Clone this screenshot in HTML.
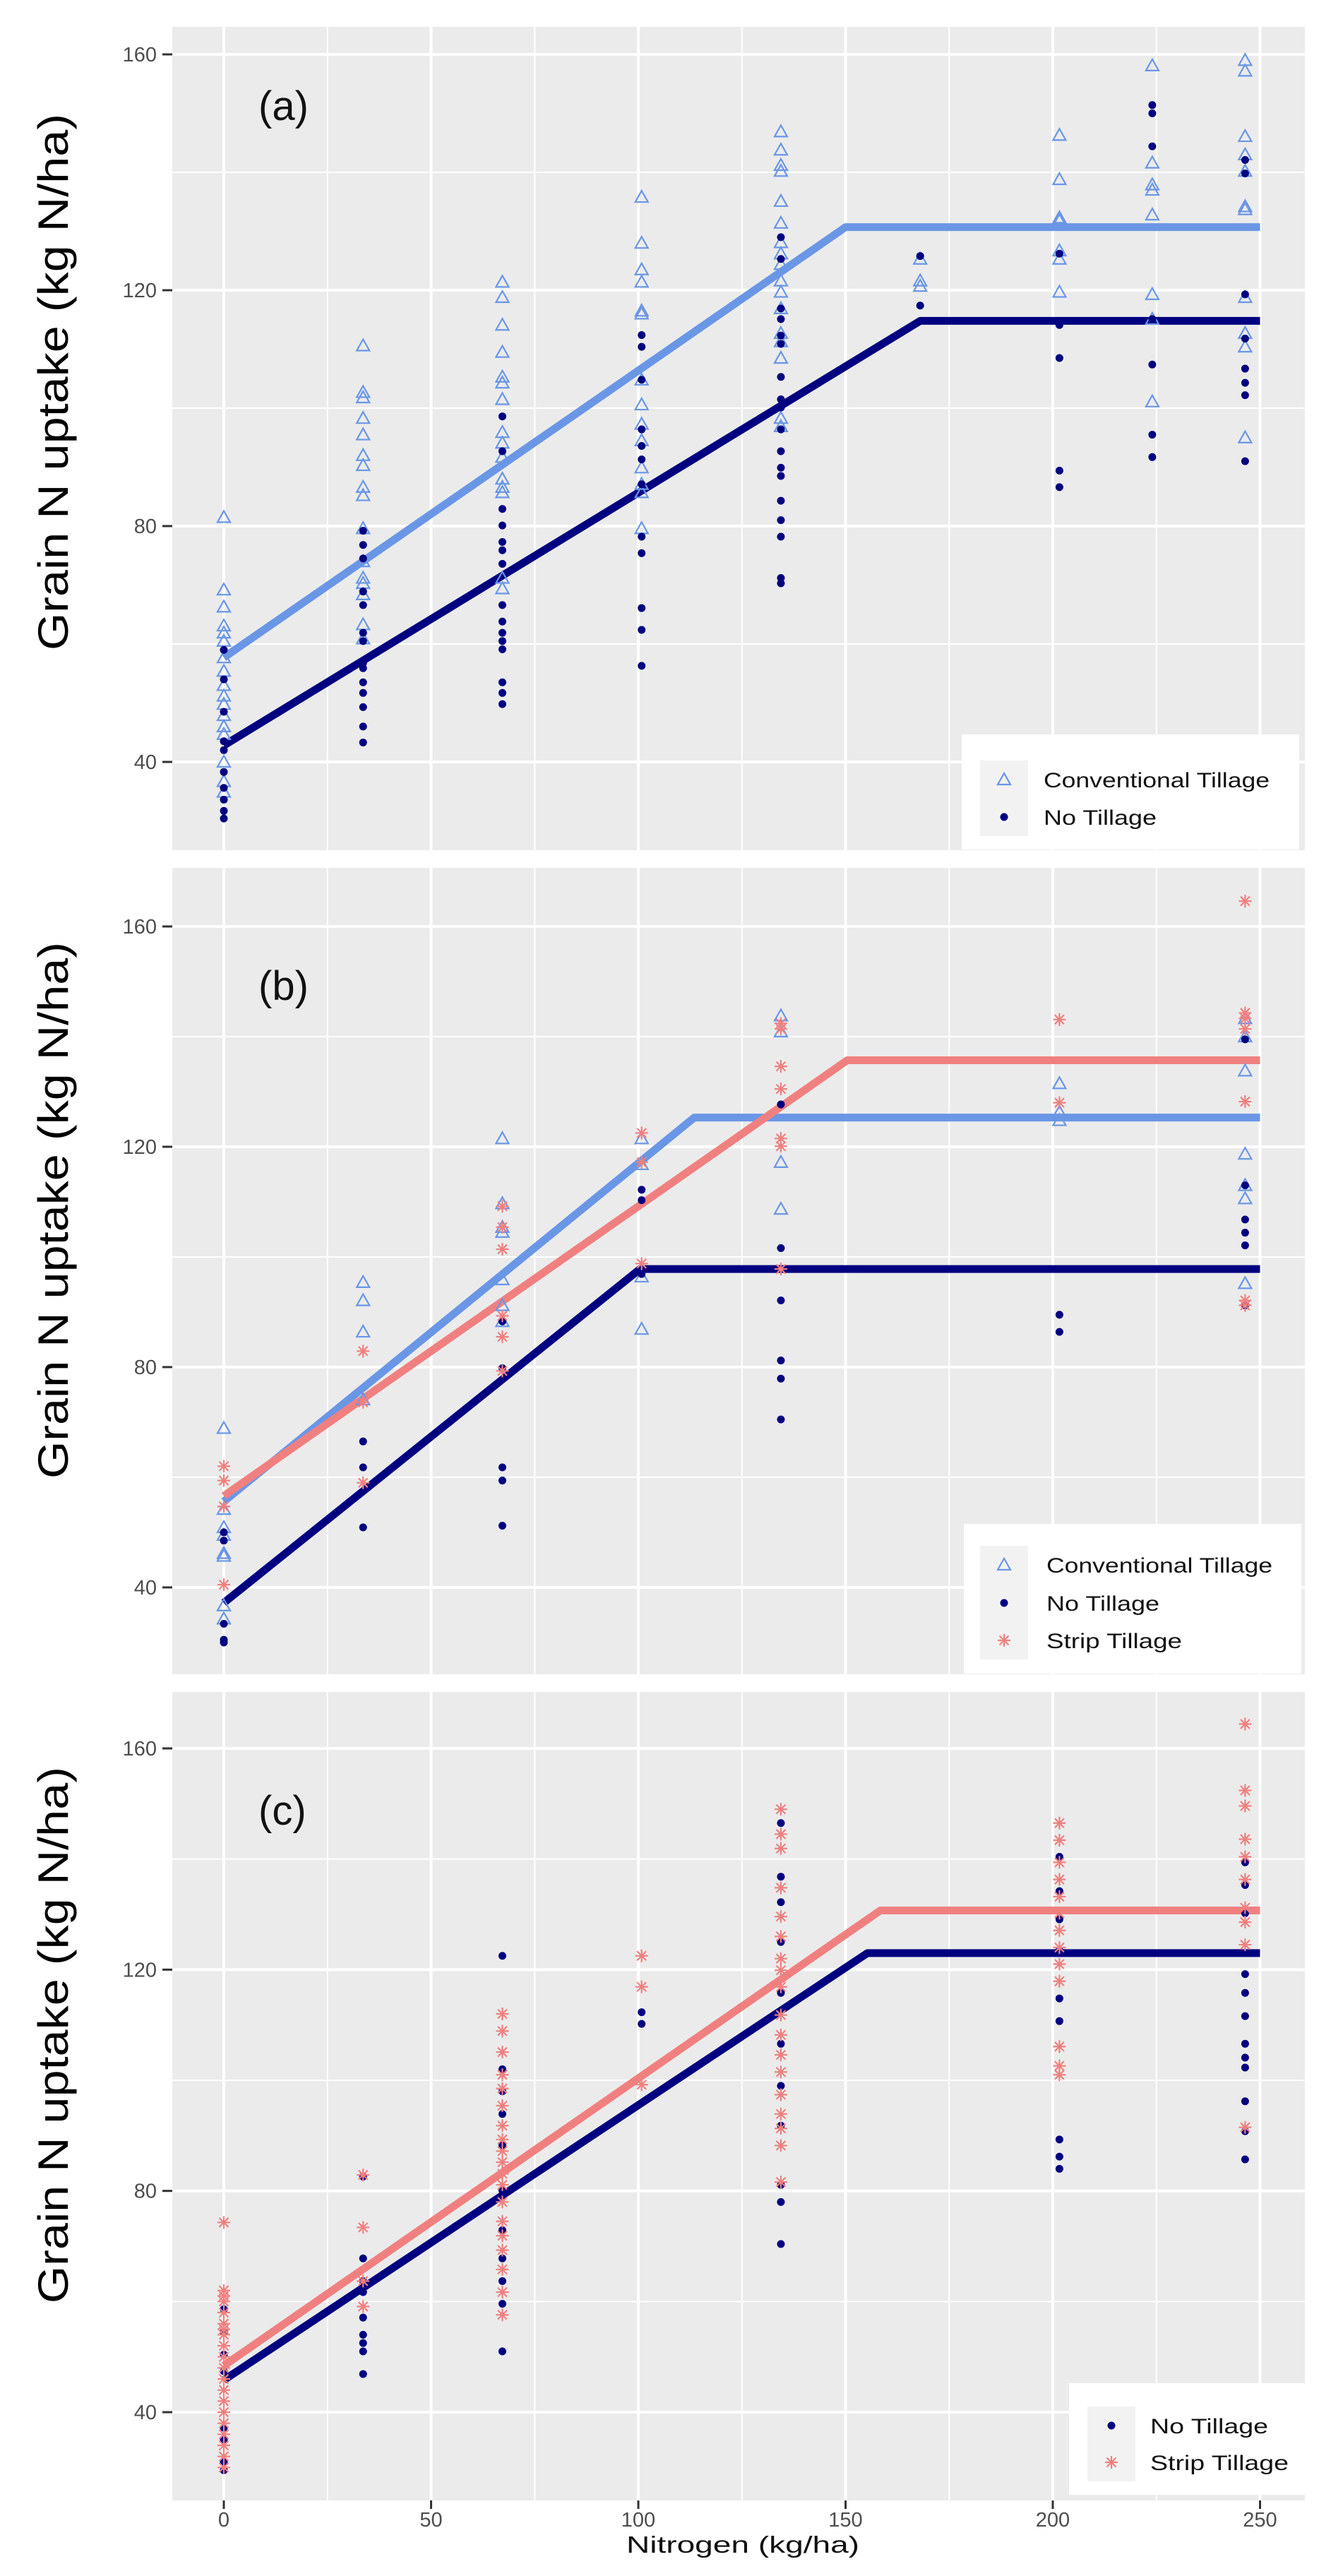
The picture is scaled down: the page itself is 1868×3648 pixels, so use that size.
<!DOCTYPE html>
<html><head><meta charset="utf-8"><style>
html,body{margin:0;padding:0;background:#fff;}
svg{display:block;font-family:"Liberation Sans",Arial,sans-serif;}
</style></head><body>
<svg id="fig" width="1868" height="3648" viewBox="0 0 1868 3648" xmlns="http://www.w3.org/2000/svg"></svg>
<script>
// ---- data ----
const levels = [0, 33.6, 67.2, 100.8, 134.4, 168, 201.6, 224, 246.4];
const xTicks = [0, 50, 100, 150, 200, 250];
const yTicks = [40, 80, 120, 160];

// panel (a)
const aCT = [
 [81.5,69.2,66.3,63.1,61.9,60.5,57.7,55.4,53,51.2,49.8,47.9,46,44.7,40,36.7,34.9],
 [110.6,102.7,101.8,98.3,95.5,92,90.3,86.6,85.2,79.6,74,71.2,70.3,68.4,63.3,60.9],
 [121.4,118.8,114.1,109.5,105.3,104.3,101.5,95.9,94.1,91.7,88,86.6,85.7,71.2,69.4],
 [135.8,128,123.5,121.4,116.5,116,104.8,100.6,97.3,94.5,89.9,87.1,85.7,79.6],
 [146.9,143.8,141.2,140.2,135.1,131.4,128.1,126.2,124.4,121.6,119.7,116.9,112.7,111.3,108.5,98.3,96.9],
 [125.3,121.6,120.7],
 [146.3,138.8,132.3,131.8,126.7,125.3,119.7],
 [158.1,141.6,137.9,137,132.8,119.3,115.1,101.1],
 [159,157.2,146.1,143,140.2,134.2,133.7,118.8,112.7,110.4,95]
];
const aNT = [
 [59,54,48.5,43.5,42,38.3,35.6,33.6,31.7,30.4],
 [79.2,76.8,74.5,68.9,66.6,61.9,60.5,56.8,55.9,53.5,51.7,49.3,46,43.3],
 [98.6,92.7,82.9,80.1,77.3,75.9,73.6,66.6,63.8,61.9,60.5,59.1,53.5,51.7,49.8],
 [112.4,110.4,104.8,96.4,93.6,91.3,87.1,78.2,75.4,66.1,62.4,56.3],
 [129,125.3,116.9,115.1,112.3,110.9,105.3,101.5,100.1,96.4,92.7,89.9,88.5,84.3,81,78.2,71.2,70.3],
 [125.8,117.4],
 [126.2,114.1,108.5,89.4,86.6],
 [151.4,150,144.4,115.1,107.4,95.5,91.7],
 [142.1,139.8,119.3,111.8,106.7,104.3,102.2,91]
];
// panel (b)
const bCT = [
 [68.9,54.2,50.9,49.5,46.2,45.7,36.7,34.3],
 [95.4,92.1,86.4,74.1],
 [121.5,109.7,105.4,104.5,95.9,91.2,88.3],
 [121.5,116.8,96.4,86.9],
 [143.8,140.9,117.2,108.7],
 [],
 [131.5,126.3,124.8],
 [],
 [143.3,140,133.8,118.7,113,110.6,95.2]
];
const bNT = [
 [50,48.5,33.4,30.5,30],
 [66.5,61.8,50.9],
 [88.3,79.8,61.8,59.4,51.2],
 [112.2,110.3,96.9],
 [127.7,101.6,92.1,81.2,77.9,70.5],
 [],
 [89.5,86.4],
 [],
 [139.5,113,106.8,104.4,102.1,91.2]
];
const bST = [
 [62,59.4,54.7,40.5],
 [82.9,73.6,59],
 [109.2,105.4,101.4,89.3,85.5,79.3],
 [122.5,117.2,98.8],
 [142.4,141.4,134.6,130.5,121.5,120.1,97.8],
 [],
 [143.1,128],
 [],
 [164.6,144.3,143.3,141.4,128.2,92.1,91.2]
];
// panel (c)
const cNT = [
 [58.6,54.5,50.4,47.4,37.2,35.1,31,29.5],
 [82.6,67.8,63.7,61.7,57.1,54,52.5,51,46.9],
 [122.5,102,98,93.9,88.2,80.1,72.9,67.8,63.7,59.6,51],
 [112.3,110.2],
 [146.5,136.8,132.2,125,115.8,106.6,99,91.8,81.1,78,70.4],
 [],
 [140.4,134.2,129.1,123.5,114.8,110.7,89.3,86.2,84],
 [],
 [139.4,135.3,130.2,119.2,115.8,111.6,106.6,104.1,102.3,96.2,90.8,85.7]
];
const cST = [
 [74.3,62,61,60,58,56,55,54,52,50,48,46,44,42,40,38,36,34,32,30],
 [82.9,73.4,63.7,59.1],
 [112,108.9,105.1,101,98.5,95.4,91.8,89.3,87.2,85.2,83.1,81.1,78,74.5,71.9,69.3,65.8,61.7,57.6],
 [122.5,116.9,99.2],
 [149,144.5,141.9,134.8,129.6,126,122,119.9,116.9,111.8,108.2,104.6,101.5,97.4,93.9,91.3,88.2,81.6],
 [],
 [146.5,143.4,139.4,136.3,133.2,130.2,127.1,124,121,117.9,106.1,102.6,101],
 [],
 [164.4,152.4,149.6,143.6,140.4,136.3,131.2,128.6,124.5,91.5]
];
// fitted linear-plateau lines: [intercept, breakpoint N, plateau]
const aFitCT = [57.7, 150, 130.7];
const aFitNT = [42.8, 168, 114.8];
const bFitCT = [55.6, 113.5, 125.3];
const bFitNT = [37.2, 100.4, 97.8];
const bFitST = [56.6, 150.4, 135.7];
const cFitNT = [45.8, 155.3, 123];
const cFitST = [48.4, 158.4, 130.7];

// ---- drawing ----
const NS = "http://www.w3.org/2000/svg";
const svg = document.getElementById('fig');
const COL = {CT:'#6A96E6', NT:'#000080', ST:'#F08080'};
function mk(tag, attrs, parent){
  const e = document.createElementNS(NS, tag);
  for (const k in attrs) e.setAttribute(k, attrs[k]);
  (parent||svg).appendChild(e);
  return e;
}
const PL = 244, PR = 1848, X0 = 317, XS = 5.87;
function xS(v){ return X0 + v*XS; }

function panel(p){
  const g = mk('g', {});
  
  
  const yS = v => p.y160 + (160 - v) * (p.y40 - p.y160) / 120;
  const bg = mk('rect', {x:PL, y:p.top, width:PR-PL, height:p.bottom-p.top, fill:'#EBEBEB'}, g);
  
  
  // minor grid
  for (let v=25; v<=275; v+=50){ const x=xS(v); if(x<PR) mk('line',{x1:x,x2:x,y1:p.top,y2:p.bottom,stroke:'#fff','stroke-width':2},g); }
  for (let v=20; v<=180; v+=40){ const y=yS(v); if(y>p.top&&y<p.bottom) mk('line',{x1:PL,x2:PR,y1:y,y2:y,stroke:'#fff','stroke-width':2},g); }
  // major grid
  xTicks.forEach(v=>{ const x=xS(v); mk('line',{x1:x,x2:x,y1:p.top,y2:p.bottom,stroke:'#fff','stroke-width':4},g); });
  yTicks.forEach(v=>{ const y=yS(v); mk('line',{x1:PL,x2:PR,y1:y,y2:y,stroke:'#fff','stroke-width':4},g);
    mk('line',{x1:230,x2:PL,y1:y,y2:y,stroke:'#333','stroke-width':3},g);
    const t = mk('text',{x:222,y:y+10,'text-anchor':'end','font-size':29,fill:'#4D4D4D'},g);
    t.textContent = v;
    
    
  });
  // panel letter
  const lt = mk('text',{x:p.lx,y:p.ly,'font-size':58,fill:'#111'},g);
  lt.textContent = p.label;
  
  
  // y-axis title
  const yt = mk('text',{x:0,y:0,'font-size':60,fill:'#000','text-anchor':'middle',transform:`translate(96,${p.titleY}) rotate(-90)`,textLength:760,lengthAdjust:'spacingAndGlyphs'},g);
  yt.textContent = 'Grain N uptake (kg N/ha)';
  
  
  // lines
  p.fits.forEach(f=>{
    const [b0, bp, pl] = f.v;
    const pts = [[0,b0],[bp,pl],[250,pl]].map(q=>xS(q[0])+','+yS(q[1])).join(' ');
    const ln = mk('polyline',{points:pts,fill:'none',stroke:COL[f.s],'stroke-width':11,'stroke-linejoin':'round'},g);
    
    
  });
  // points
  p.series.forEach(s=>{
    s.v.forEach((vals, i)=>{
      const x = xS(levels[i]);
      vals.forEach(val=>{
        const y = yS(val);
        let m;
        if (s.s==='CT'){
          m = mk('polygon',{points:`${x},${y-9} ${x-9},${y+7} ${x+9},${y+7}`,fill:'none',stroke:COL.CT,'stroke-width':2.2},g);
        } else if (s.s==='NT'){
          m = mk('circle',{cx:x,cy:y,r:5.5,fill:COL.NT},g);
        } else {
          m = mk('path',{d:`M${x},${y-9}V${y+9}M${x-9},${y}H${x+9}M${x-6.5},${y-6.5}L${x+6.5},${y+6.5}M${x-6.5},${y+6.5}L${x+6.5},${y-6.5}`,stroke:COL.ST,'stroke-width':2.2,fill:'none'},g);
        }
        
        
      });
    });
  });
  // legend
  const L = p.legend;
  const lg = mk('g',{},g);
  
  
  mk('rect',{x:L.x,y:L.y,width:L.w,height:L.h,fill:'#fff'},lg);
  const n = L.items.length;
  mk('rect',{x:L.kx,y:L.rows[0]-27,width:68,height:(L.rows[n-1]-L.rows[0])+54,fill:'#F2F2F2'},lg);
  L.items.forEach((it,i)=>{
    const y = L.rows[i], x = L.kx+34;
    let m;
    if (it.s==='CT') m = mk('polygon',{points:`${x},${y-9} ${x-9},${y+7} ${x+9},${y+7}`,fill:'none',stroke:COL.CT,'stroke-width':2.2},lg);
    else if (it.s==='NT') m = mk('circle',{cx:x,cy:y,r:5.5,fill:COL.NT},lg);
    else m = mk('path',{d:`M${x},${y-9}V${y+9}M${x-9},${y}H${x+9}M${x-6.5},${y-6.5}L${x+6.5},${y+6.5}M${x-6.5},${y+6.5}L${x+6.5},${y-6.5}`,stroke:COL.ST,'stroke-width':2.2,fill:'none'},lg);
    
    
    const t = mk('text',{x:L.tx,y:y+11,'font-size':30,fill:'#111',textLength:it.tl,lengthAdjust:'spacingAndGlyphs'},lg);
    t.textContent = it.t;
    
    
  });
  return yS;
}

panel({id:'a', label:'(a)', top:38, bottom:1204, y160:77, y40:1079, lx:366, ly:170, titleY:541,
  fits:[{s:'CT',v:aFitCT},{s:'NT',v:aFitNT}],
  series:[{s:'CT',v:aCT},{s:'NT',v:aNT}],
  legend:{x:1362,y:1040,w:478,h:163,kx:1388,tx:1478,rows:[1104,1157],
    items:[{s:'CT',t:'Conventional Tillage',tl:320},{s:'NT',t:'No Tillage',tl:160}]}});
panel({id:'b', label:'(b)', top:1229, bottom:2371, y160:1312, y40:2248, lx:366, ly:1416, titleY:1714,
  fits:[{s:'CT',v:bFitCT},{s:'ST',v:bFitST},{s:'NT',v:bFitNT}],
  series:[{s:'CT',v:bCT},{s:'NT',v:bNT},{s:'ST',v:bST}],
  legend:{x:1365,y:2158,w:478,h:212,kx:1388,tx:1482,rows:[2216,2270,2323],
    items:[{s:'CT',t:'Conventional Tillage',tl:320},{s:'NT',t:'No Tillage',tl:160},{s:'ST',t:'Strip Tillage',tl:192}]}});
panel({id:'c', label:'(c)', top:2396, bottom:3541, y160:2476, y40:3416, lx:366, ly:2584, titleY:2882,
  fits:[{s:'ST',v:cFitST},{s:'NT',v:cFitNT}],
  series:[{s:'NT',v:cNT},{s:'ST',v:cST}],
  legend:{x:1514,y:3375,w:334,h:158,kx:1540,tx:1629,rows:[3435,3487],
    items:[{s:'NT',t:'No Tillage',tl:167},{s:'ST',t:'Strip Tillage',tl:196}]}});

// x axis (bottom panel)
xTicks.forEach(v=>{
  const x = xS(v);
  mk('line',{x1:x,x2:x,y1:3541,y2:3553,stroke:'#333','stroke-width':3});
  const t = mk('text',{x:x,y:3578,'text-anchor':'middle','font-size':29,fill:'#4D4D4D'});
  t.textContent = v;
  
  
});
const xt = mk('text',{x:1052,y:3615,'text-anchor':'middle','font-size':33,fill:'#111',textLength:330,lengthAdjust:'spacingAndGlyphs'});
xt.textContent = 'Nitrogen (kg/ha)';


</script>
</body></html>
